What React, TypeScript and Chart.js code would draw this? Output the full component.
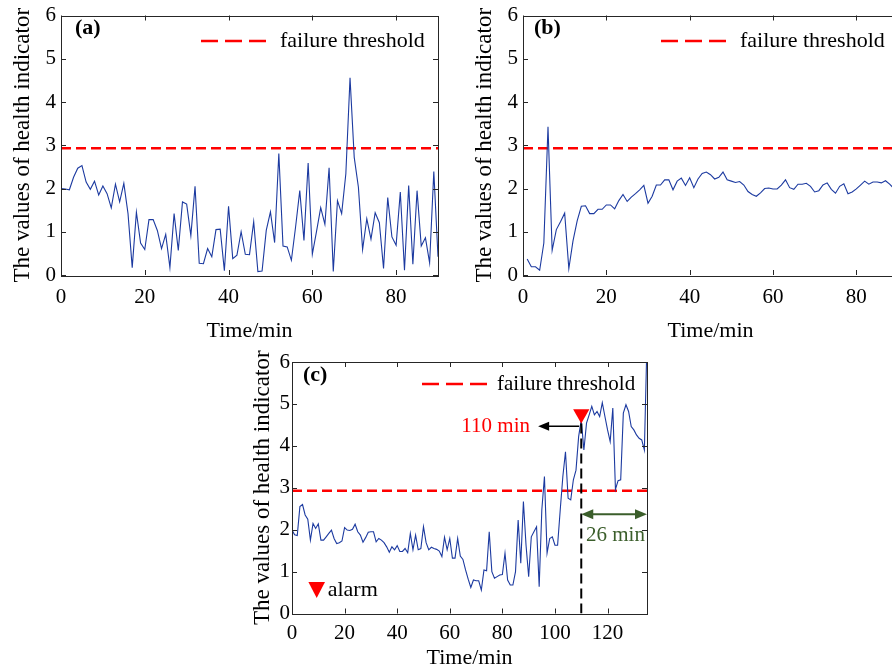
import React, { useEffect, useRef } from 'react';
import { Chart, registerables } from 'chart.js';

Chart.register(...registerables);

const FONT = '"Liberation Serif", "Times New Roman", serif';

// ---------- data ----------
const THRESHOLD = 2.93;
const yTicks = [0, 1, 2, 3, 4, 5, 6];
const xTicksAB = [0, 20, 40, 60, 80];
const xTicksC = [0, 20, 40, 60, 80, 100, 120];

const startA = 0; // minute of first sample
const healthA = [
  2.00, 1.99, 1.97, 2.26, 2.47, 2.53, 2.15, 1.98, 2.17, 1.85,
  2.06, 1.88, 1.55, 2.10, 1.69, 2.12, 1.42, 0.17, 1.45, 0.74,
  0.59, 1.28, 1.28, 1.03, 0.61, 0.94, 0.17, 1.42, 0.57, 1.69,
  1.64, 0.91, 2.05, 0.27, 0.26, 0.61, 0.42, 1.05, 1.06, 0.10,
  1.59, 0.38, 0.46, 1.00, 0.48, 0.47, 1.23, 0.08, 0.09, 1.03,
  1.46, 0.75, 2.81, 0.67, 0.65, 0.34, 1.11, 1.95, 0.80, 2.59,
  0.48, 1.01, 1.56, 1.17, 2.48, 0.08, 1.72, 1.42, 2.34, 4.56,
  2.72, 2.03, 0.59, 1.30, 0.83, 1.44, 1.21, 0.15, 1.79, 0.88,
  0.69, 1.92, 0.11, 2.07, 0.25, 1.95, 0.67, 0.86, 0.28, 2.39,
  0.42,
];

const startB = 1;
const healthB = [
  0.37, 0.19, 0.19, 0.11, 0.74, 3.43, 0.57, 1.05, 1.23, 1.43,
  0.15, 0.79, 1.25, 1.59, 1.60, 1.42, 1.42, 1.52, 1.52, 1.62,
  1.62, 1.53, 1.72, 1.86, 1.70, 1.80, 1.88, 1.97, 2.07, 1.66,
  1.82, 2.08, 2.08, 2.20, 2.20, 1.97, 2.17, 2.24, 2.07, 2.25,
  2.02, 2.22, 2.35, 2.38, 2.32, 2.22, 2.26, 2.38, 2.20, 2.17,
  2.14, 2.16, 2.08, 1.93, 1.86, 1.82, 1.90, 2.00, 2.01, 1.99,
  1.99, 2.08, 2.20, 2.02, 1.98, 2.10, 2.10, 2.12, 2.05, 1.92,
  1.95, 2.08, 2.13, 1.98, 1.89, 2.05, 2.11, 1.88, 1.92, 1.99,
  2.08, 2.17, 2.10, 2.15, 2.15, 2.13, 2.18, 2.10, 2.00, 1.95,
];

const startC = 0;
const healthC = [
  1.99, 1.88, 1.86, 2.55, 2.60, 2.35, 2.25, 1.75, 2.15, 2.03,
  2.14, 1.75, 1.75, 1.83, 1.91, 1.99, 1.79, 1.67, 1.69, 1.73,
  2.05, 1.99, 1.98, 2.01, 2.13, 1.95, 1.87, 1.70, 1.81, 1.94,
  1.95, 1.95, 1.71, 1.79, 1.75, 1.69, 1.59, 1.46, 1.59, 1.52,
  1.62, 1.48, 1.48, 1.55, 1.45, 1.91, 1.52, 1.87, 1.52, 1.55,
  2.07, 1.69, 1.52, 1.58, 1.55, 1.53, 1.49, 1.36, 1.82, 1.52,
  1.79, 1.32, 1.32, 1.79, 1.37, 1.29, 1.04, 0.82, 0.62, 0.80,
  0.78, 0.78, 0.56, 1.04, 1.02, 1.95, 1.00, 0.84, 0.88, 0.92,
  0.93, 1.44, 0.80, 0.68, 0.68, 1.00, 2.23, 1.20, 2.67, 1.63,
  0.88, 1.83, 1.95, 2.07, 0.64, 2.47, 3.27, 1.44, 1.79, 1.83,
  1.63, 1.63, 2.47, 3.27, 3.86, 2.75, 2.71, 3.19, 3.42, 4.22,
  4.62, 3.90, 4.54, 4.74, 4.94, 4.74, 4.82, 4.70, 5.03, 4.70,
  4.38, 4.10, 4.90, 2.96, 3.17, 3.19, 4.78, 4.98, 4.82, 4.46,
  4.38, 4.26, 4.18, 4.14, 3.90, 6.50,
];

const alarmTime = 110;
const alarmMarkerValue = 4.76;
const alarmLineTop = 4.55;
const leadArrowFrom = 109.2;
const leadArrowTo = 93.6;
const leadArrowValue = 4.47;
const leadLabel = '110 min';
const leadLabelTime = 90.5;
const rulStart = 110;
const rulEnd = 135;
const rulArrowValue = 2.37;
const rulLabel = '26 min';
const rulLabelTime = 123;
const rulLabelValue = 1.87;

// ---------- styling ----------
const BLUE = '#1c3aa0';
const RED = '#ff0000';
const GREEN = '#3b5e2b';
const AXIS = '#262626';

type Panel = {
  key: string;
  left: number; top: number; width: number; height: number;
  pad: { left: number; top: number; right: number; bottom: number };
  yW: number; xH: number;
  xMax: number; xTicks: number[];
  values: number[]; start: number;
  tag: string;
  tagDx: number; tagDy: number;
  legX0: number; legX1: number; legDy: number; legTextX: number; legFont: number;
  yTickPad: number; xTickPad: number;
  extra: boolean;
};

const panels: Panel[] = [
  {
    key: 'a', left: 0, top: 0, width: 450, height: 345,
    pad: { left: 11, top: 14, right: 12, bottom: 2.5 }, yW: 50, xH: 67.5,
    xMax: 90, xTicks: xTicksAB, values: healthA, start: startA, tag: '(a)',
    tagDx: 14, tagDy: 13, legX0: 140, legX1: 211, legDy: 25.5, legTextX: 219, legFont: 22,
    yTickPad: 5, xTickPad: 12, extra: false,
  },
  {
    key: 'b', left: 462, top: 0, width: 450, height: 345,
    pad: { left: 11, top: 14, right: 14, bottom: 2.5 }, yW: 50, xH: 67.5,
    xMax: 90, xTicks: xTicksAB, values: healthB, start: startB, tag: '(b)',
    tagDx: 11, tagDy: 13, legX0: 138, legX1: 209, legDy: 25.5, legTextX: 217, legFont: 22,
    yTickPad: 5, xTickPad: 12, extra: false,
  },
  {
    key: 'c', left: 230, top: 340, width: 430, height: 329,
    pad: { left: 21, top: 22, right: 13, bottom: 0 }, yW: 41, xH: 55.5,
    xMax: 135, xTicks: xTicksC, values: healthC, start: startC, tag: '(c)',
    tagDx: 11, tagDy: 13, legX0: 130, legX1: 196, legDy: 22, legTextX: 205, legFont: 21,
    yTickPad: 2, xTickPad: 9, extra: true,
  },
];

function arrowHead(ctx: CanvasRenderingContext2D, x: number, y: number, dir: number, len: number, half: number) {
  ctx.beginPath();
  ctx.moveTo(x, y);
  ctx.lineTo(x - dir * len, y - half);
  ctx.lineTo(x - dir * len, y + half);
  ctx.closePath();
  ctx.fill();
}

function makePlugin(p: Panel) {
  return {
    id: 'deco_' + p.key,
    afterDatasetsDraw(chart: any) {
      const { ctx, chartArea: a, scales } = chart;
      const xs = scales.x, ys = scales.y;
      ctx.save();
      // frame
      ctx.strokeStyle = AXIS;
      ctx.lineWidth = 1;
      ctx.setLineDash([]);
      ctx.strokeRect(Math.round(a.left) + 0.5, Math.round(a.top) + 0.5,
        Math.round(a.right - a.left), Math.round(a.bottom - a.top));
      // inward ticks on all sides
      const tl = 5;
      ctx.beginPath();
      p.xTicks.forEach((v) => {
        const x = Math.round(xs.getPixelForValue(v)) + 0.5;
        ctx.moveTo(x, a.bottom); ctx.lineTo(x, a.bottom - tl);
        ctx.moveTo(x, a.top); ctx.lineTo(x, a.top + tl);
      });
      yTicks.forEach((v) => {
        const y = Math.round(ys.getPixelForValue(v)) + 0.5;
        ctx.moveTo(a.left, y); ctx.lineTo(a.left + tl, y);
        ctx.moveTo(a.right, y); ctx.lineTo(a.right - tl, y);
      });
      ctx.stroke();

      // panel tag
      ctx.fillStyle = '#000';
      ctx.font = `bold 22px ${FONT}`;
      ctx.textBaseline = 'middle';
      ctx.textAlign = 'left';
      ctx.fillText(p.tag, a.left + p.tagDx, a.top + p.tagDy);

      // legend
      ctx.strokeStyle = RED;
      ctx.lineWidth = 2.5;
      ctx.setLineDash([17, 7]);
      ctx.beginPath();
      ctx.moveTo(a.left + p.legX0, a.top + p.legDy);
      ctx.lineTo(a.left + p.legX1, a.top + p.legDy);
      ctx.stroke();
      ctx.setLineDash([]);
      ctx.font = `${p.legFont}px ${FONT}`;
      ctx.fillStyle = '#000';
      ctx.fillText('failure threshold', a.left + p.legTextX, a.top + p.legDy);

      if (p.extra) {
        // alarm legend
        const cx = a.left + 24.7, ty = a.top + 220;
        ctx.fillStyle = RED;
        ctx.beginPath();
        ctx.moveTo(cx - 8.3, ty);
        ctx.lineTo(cx + 8.3, ty);
        ctx.lineTo(cx, ty + 16);
        ctx.closePath();
        ctx.fill();
        ctx.fillStyle = '#000';
        ctx.font = `22px ${FONT}`;
        ctx.fillText('alarm', a.left + 35.7, ty + 8);

        // lead-time arrow (black)
        const ly = ys.getPixelForValue(leadArrowValue);
        const lx1 = xs.getPixelForValue(leadArrowFrom);
        const lx2 = xs.getPixelForValue(leadArrowTo);
        ctx.strokeStyle = '#000';
        ctx.fillStyle = '#000';
        ctx.lineWidth = 1.5;
        ctx.beginPath();
        ctx.moveTo(lx1, ly); ctx.lineTo(lx2 + 8, ly);
        ctx.stroke();
        arrowHead(ctx, lx2, ly, -1, 11, 4.5);
        ctx.fillStyle = RED;
        ctx.font = `21px ${FONT}`;
        ctx.textAlign = 'right';
        ctx.fillText(leadLabel, xs.getPixelForValue(leadLabelTime), ys.getPixelForValue(leadArrowValue));

        // remaining-life double arrow (green)
        const gy = ys.getPixelForValue(rulArrowValue);
        const gx1 = xs.getPixelForValue(rulStart);
        const gx2 = xs.getPixelForValue(rulEnd);
        ctx.strokeStyle = GREEN;
        ctx.fillStyle = GREEN;
        ctx.lineWidth = 2;
        ctx.beginPath();
        ctx.moveTo(gx1 + 8, gy); ctx.lineTo(gx2 - 8, gy);
        ctx.stroke();
        arrowHead(ctx, gx1, gy, -1, 12, 5);
        arrowHead(ctx, gx2, gy, 1, 12, 5);
        ctx.font = `21px ${FONT}`;
        ctx.textAlign = 'center';
        ctx.fillText(rulLabel, xs.getPixelForValue(rulLabelTime), ys.getPixelForValue(rulLabelValue));
      }
      ctx.restore();
    },
  };
}

function buildChart(canvas: HTMLCanvasElement, p: Panel) {
  const series = p.values.map((v, i) => ({ x: p.start + i, y: v }));
  const datasets: any[] = [
    {
      data: [{ x: 0, y: THRESHOLD }, { x: p.xMax, y: THRESHOLD }],
      borderColor: RED, borderWidth: 2.5, borderDash: [10, 5],
      pointRadius: 0, order: 2,
    },
    {
      data: series, borderColor: BLUE, borderWidth: 1.1,
      pointRadius: 0, tension: 0, order: 1,
    },
  ];
  if (p.extra) {
    datasets.push({
      data: [{ x: alarmTime, y: 0 }, { x: alarmTime, y: alarmLineTop }],
      borderColor: '#000', borderWidth: 2, borderDash: [10, 5], pointRadius: 0, order: 0,
    });
    datasets.push({
      type: 'scatter',
      data: [{ x: alarmTime, y: alarmMarkerValue }],
      pointStyle: 'triangle', rotation: 180, pointRotation: 180,
      pointRadius: 9.4, backgroundColor: RED, borderColor: RED, borderWidth: 0, order: -1,
    });
  }
  const tickFont = { family: FONT, size: 21, lineHeight: 1 };
  return new Chart(canvas, {
    type: 'line',
    data: { datasets },
    options: {
      animation: false,
      responsive: false,
      devicePixelRatio: 1,
      events: [],
      layout: { padding: p.pad },
      plugins: { legend: { display: false }, tooltip: { enabled: false } },
      scales: {
        x: {
          type: 'linear', min: 0, max: p.xMax,
          grid: { display: false, drawTicks: false },
          border: { display: false },
          ticks: { font: tickFont, color: '#000', padding: p.xTickPad, maxRotation: 0, autoSkip: false },
          afterBuildTicks: (s: any) => { s.ticks = p.xTicks.map((v) => ({ value: v })); },
          afterFit: (s: any) => { s.height = p.xH; },
          title: { display: true, text: 'Time/min', color: '#000', padding: 0, font: { family: FONT, size: 22, lineHeight: 1 } },
        },
        y: {
          type: 'linear', min: 0, max: 6,
          grid: { display: false, drawTicks: false },
          border: { display: false },
          ticks: { font: tickFont, color: '#000', padding: p.yTickPad, autoSkip: false },
          afterBuildTicks: (s: any) => { s.ticks = yTicks.map((v) => ({ value: v })); },
          afterFit: (s: any) => { s.width = p.yW; },
          title: { display: true, text: 'The values of health indicator', color: '#000', padding: 0, font: { family: FONT, size: 23, lineHeight: 1 } },
        },
      },
    } as any,
    plugins: [makePlugin(p)],
  });
}

function PanelCanvas({ p }: { p: Panel }) {
  const ref = useRef<HTMLCanvasElement | null>(null);
  useEffect(() => {
    if (!ref.current) return;
    const chart = buildChart(ref.current, p);
    return () => chart.destroy();
  }, [p]);
  return (
    <canvas
      ref={ref}
      width={p.width}
      height={p.height}
      style={{ position: 'absolute', left: p.left, top: p.top, width: p.width, height: p.height }}
    />
  );
}

export default function App() {
  return (
    <div style={{ position: 'absolute', left: 0, top: 0, width: 892, height: 669, overflow: 'hidden', background: '#fff' }}>
      {panels.map((p) => <PanelCanvas key={p.key} p={p} />)}
    </div>
  );
}
